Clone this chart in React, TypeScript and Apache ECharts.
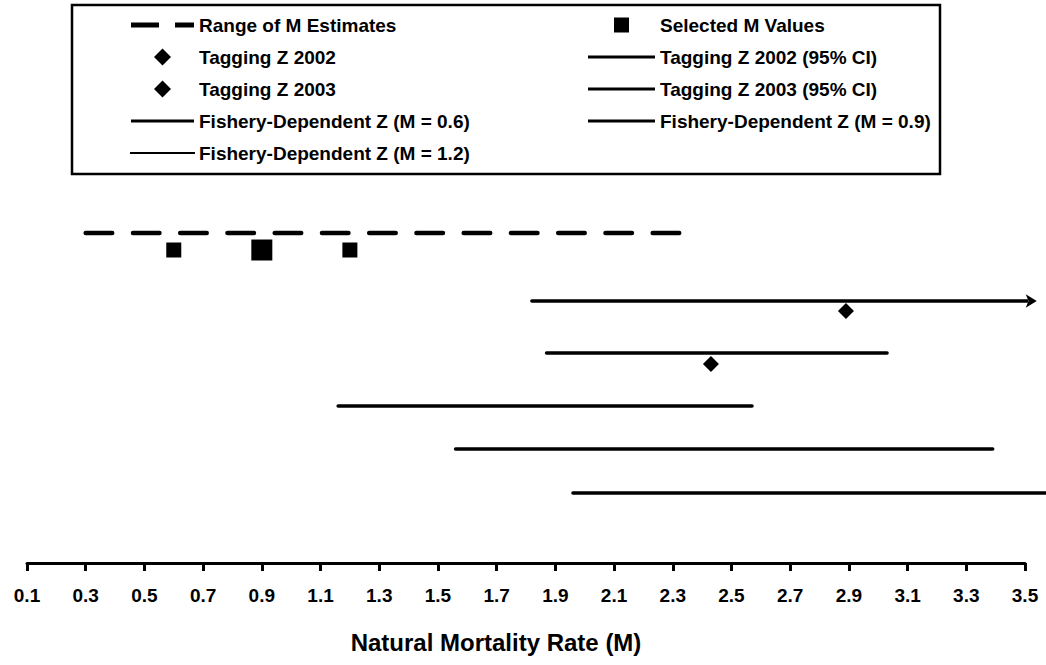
import React, { useEffect, useRef } from "react";
import * as echarts from "echarts";

// ---- data (x = natural mortality rate / Z values) ----
const tickValues = [0.1, 0.3, 0.5, 0.7, 0.9, 1.1, 1.3, 1.5, 1.7, 1.9, 2.1, 2.3, 2.5, 2.7, 2.9, 3.1, 3.3, 3.5];
const rangeOfM = [0.3, 2.33];
const selectedM = [0.6, 0.9, 1.2];
const tagZ2002 = [2.89];
const tagZ2003 = [2.43];
const tagCI2002 = [1.82, 3.54];
const tagCI2003 = [1.87, 3.03];
const fdZM06 = [1.16, 2.57];
const fdZM09 = [1.56, 3.39];
const fdZM12 = [1.96, 3.57];

const FONT = "'Liberation Sans', Arial, sans-serif";

// vertical row levels on the hidden (inverted) y axis
const ROW = {
  range: 20,
  selected: 37,
  ci2002: 88,
  z2002: 98,
  ci2003: 140,
  z2003: 151,
  fd06: 193,
  fd09: 236,
  fd12: 280,
};

// legend icons
const ICON_DASH = "path://M0,0 H28 V5 H0 Z M44,0 H63 V5 H44 Z";
const ICON_SQUARE = "path://M0,0 H15 V15 H0 Z";
const ICON_DIAMOND = "path://M0,8.5 L8.5,0 L17,8.5 L8.5,17 Z";
const ICON_LINE_L = "path://M0,0 H63 V3 H0 Z";
const ICON_LINE_R = "path://M0,0 H67 V3 H0 Z";
const ICON_HAIR_L = "path://M0,0 H63 V0.1 H0 Z";

export default function App() {
  const ref = useRef<HTMLDivElement>(null);
  useEffect(() => {
    if (!ref.current) return;
    const chart = echarts.init(ref.current, undefined, { renderer: "svg" });
    const black = "#000";
    const seg = (name: string, xs: number[], row: number, width = 3.5) => ({
      type: "line",
      name,
      data: xs.map((x) => [x, row]),
      symbol: "none",
      clip: false,
      silent: true,
      lineStyle: { color: black, width, cap: "round" },
      itemStyle: { color: black },
      z: 2,
    });
    const legendText = {
      fontFamily: FONT,
      fontWeight: "bold",
      fontSize: 19,
      lineHeight: 24,
      color: black,
    };
    const option: any = {
      animation: false,
      backgroundColor: "#fff",
      grid: { left: 27, right: 21, top: 213, bottom: 102, containLabel: false },
      xAxis: {
        type: "value",
        position: "bottom",
        min: 0.1,
        max: 3.5,
        axisLine: { show: true, onZero: false, lineStyle: { color: black, width: 3 } },
        axisTick: { show: true, customValues: tickValues, length: 8, lineStyle: { color: black, width: 3 } },
        axisLabel: {
          customValues: tickValues,
          formatter: (v: number) => v.toFixed(1),
          fontFamily: FONT,
          fontWeight: "bold",
          fontSize: 19,
          color: black,
          margin: 23,
        },
        splitLine: { show: false },
        name: "Natural Mortality Rate (M)",
        nameLocation: "middle",
        nameGap: 67,
        nameTextStyle: {
          fontFamily: FONT,
          fontWeight: "bold",
          fontSize: 24,
          color: black,
          padding: [0, 60, 0, 0],
        },
      },
      yAxis: { type: "value", show: false, min: 0, max: 350, inverse: true },
      legend: [
        {
          left: 130,
          top: 13,
          orient: "vertical",
          padding: 0,
          itemWidth: 63,
          itemHeight: 17,
          itemGap: 8,
          selectedMode: false,
          textStyle: legendText,
          data: [
            { name: "Range of M Estimates", icon: ICON_DASH },
            { name: "Tagging Z 2002", icon: ICON_DIAMOND },
            { name: "Tagging Z 2003", icon: ICON_DIAMOND },
            { name: "Fishery-Dependent Z (M = 0.6)", icon: ICON_LINE_L },
            { name: "Fishery-Dependent Z (M = 1.2)", icon: ICON_HAIR_L },
          ],
        },
        {
          left: 588,
          top: 13,
          orient: "vertical",
          padding: 0,
          itemWidth: 67,
          itemHeight: 15,
          itemGap: 8,
          selectedMode: false,
          textStyle: legendText,
          data: [
            { name: "Selected M Values", icon: ICON_SQUARE },
            { name: "Tagging Z 2002 (95% CI)", icon: ICON_LINE_R },
            { name: "Tagging Z 2003 (95% CI)", icon: ICON_LINE_R },
            { name: "Fishery-Dependent Z (M = 0.9)", icon: ICON_LINE_R },
          ],
        },
      ],
      graphic: [
        {
          type: "rect",
          shape: { x: 72, y: 5, width: 868, height: 169 },
          style: { fill: "none", stroke: black, lineWidth: 2.5 },
        },
      ],
      series: [
        {
          type: "line",
          name: "Range of M Estimates",
          data: rangeOfM.map((x) => [x, ROW.range]),
          symbol: "none",
          clip: false,
          lineStyle: { color: black, width: 4.5, type: [26.5, 20.75], cap: "round" },
          itemStyle: { color: black },
        },
        {
          type: "scatter",
          name: "Selected M Values",
          symbol: "rect",
          symbolSize: (v: number[]) => (v[0] === 0.9 ? 21 : 15),
          data: selectedM.map((x) => [x, ROW.selected]),
          itemStyle: { color: black, opacity: 1 },
          z: 3,
        },
        {
          type: "scatter",
          name: "Tagging Z 2002",
          symbol: "diamond",
          symbolSize: 16,
          data: tagZ2002.map((x) => [x, ROW.z2002]),
          itemStyle: { color: black, opacity: 1 },
          z: 3,
        },
        {
          type: "scatter",
          name: "Tagging Z 2003",
          symbol: "diamond",
          symbolSize: 16,
          data: tagZ2003.map((x) => [x, ROW.z2003]),
          itemStyle: { color: black, opacity: 1 },
          z: 3,
        },
        {
          ...seg("Tagging Z 2002 (95% CI)", [], ROW.ci2002),
          data: [
            [tagCI2002[0], ROW.ci2002],
            { value: [tagCI2002[1], ROW.ci2002], symbol: "arrow", symbolSize: [10, 11], symbolRotate: -90 },
          ],
        },
        seg("Tagging Z 2003 (95% CI)", tagCI2003, ROW.ci2003),
        seg("Fishery-Dependent Z (M = 0.6)", fdZM06, ROW.fd06),
        seg("Fishery-Dependent Z (M = 0.9)", fdZM09, ROW.fd09),
        {
          type: "lines",
          name: "Fishery-Dependent Z (M = 1.2)",
          coordinateSystem: "cartesian2d",
          xAxisIndex: 0,
          yAxisIndex: 0,
          clip: false,
          silent: true,
          symbol: ["none", "none"],
          data: [{ coords: fdZM12.map((x) => [x, ROW.fd12]) }],
          lineStyle: { color: black, width: 3.5, opacity: 1, cap: "round" },
          itemStyle: { color: black },
          z: 2,
        },
      ],
    };
    chart.setOption(option);
    return () => chart.dispose();
  }, []);
  return (
    <div
      ref={ref}
      style={{ position: "fixed", left: 0, top: 0, width: 1046, height: 665, background: "#fff" }}
    />
  );
}
